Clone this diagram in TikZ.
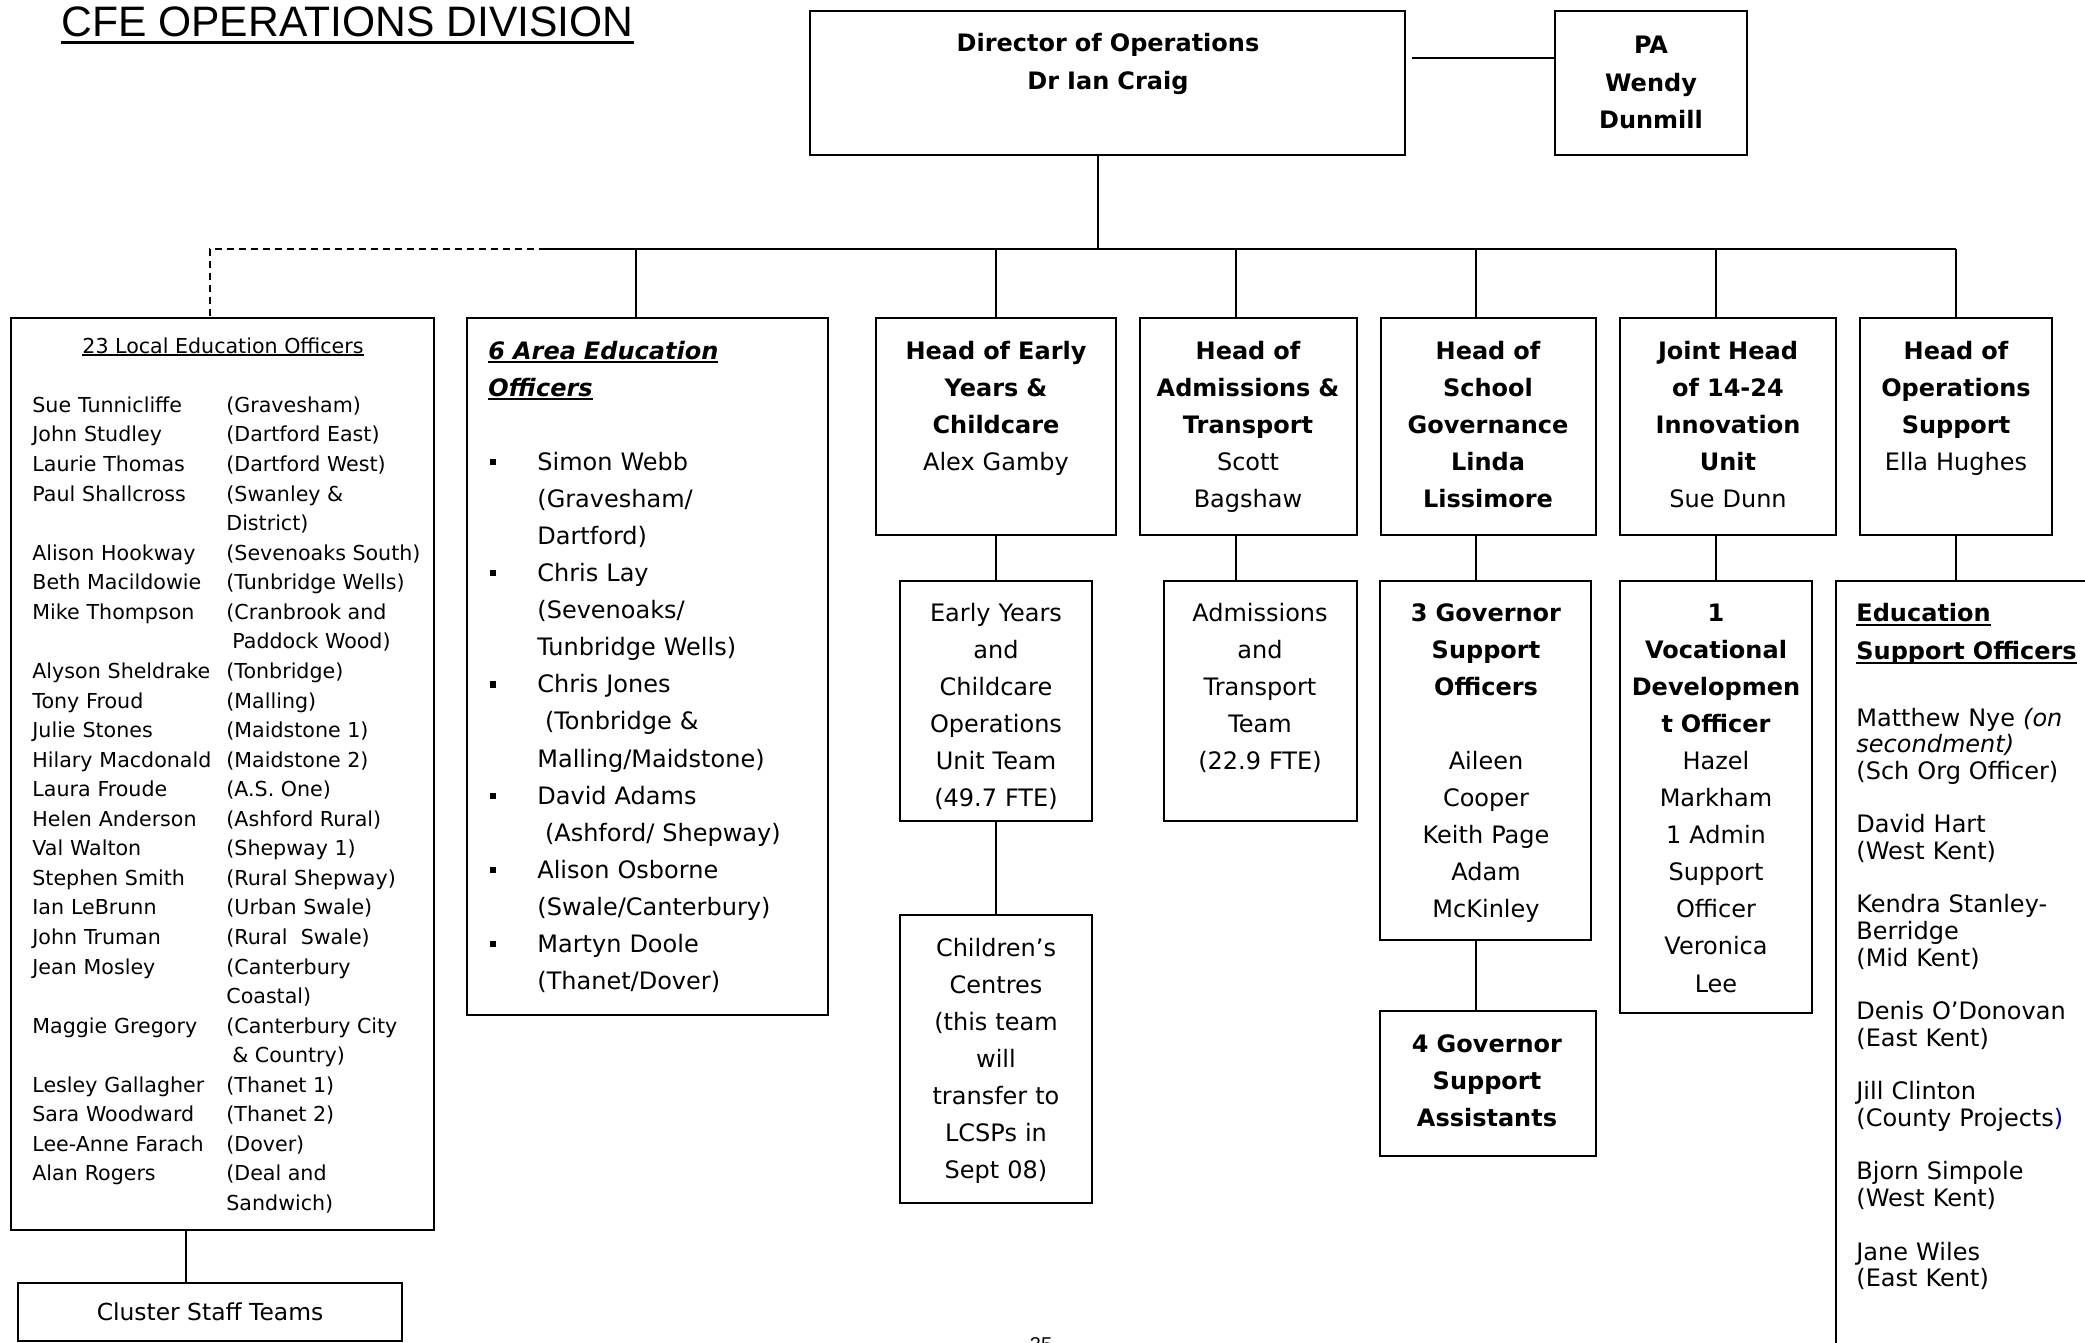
\documentclass[tikz,border=0pt]{standalone}
\usepackage{fontspec}
\setmainfont{DejaVu Sans}
\newfontfamily\titlefont{Liberation Sans}
\usetikzlibrary{fit,matrix}
\newcommand{\boxfont}{\fontsize{12}{18.55}\selectfont}
\newcommand{\listfont}{\fontsize{10.3}{14.78}\selectfont}
\newcommand{\undl}[2][2.4pt]{\leavevmode\setbox0\hbox{#2}\rlap{\rule[-#1]{\wd0}{0.9pt}}\box0}
\newcommand{\aeobul}{\makebox[24.5pt][l]{\hspace{0.6pt}\rule[2.6pt]{3.2pt}{3.2pt}}}
\newcommand{\aeoind}{\hspace*{24.5pt}}

\begin{document}
\begin{tikzpicture}[x=0.5pt, y=-0.5pt,
    orgbox/.style={draw, line width=1.1pt, inner sep=0pt},
    link/.style={line width=0.8pt},
    boxtxt/.style={anchor=base, align=center, inner sep=0pt, text width=100pt, font=\boxfont},
    listtxt/.style={anchor=base west, align=left, inner sep=0pt, text width=#1, font=\boxfont}]
\useasboundingbox (0,0) rectangle (2085,1343);
\clip (0,0) rectangle (2085,1343);

\node[anchor=base west, inner sep=0pt, font=\titlefont\fontsize{21.3}{25}\selectfont] (title) at (61,37) {CFE OPERATIONS DIVISION};
\draw[line width=1.5pt] ([yshift=-2.8pt]title.base west) -- ([yshift=-2.8pt]title.base east);

\node[orgbox, fit={(810,11) (1405,155)}] (director) {};
\node[orgbox, fit={(1555,11) (1747,155)}] (pa) {};
\node[orgbox, fit={(11,318) (434,1230)}] (leo) {};
\node[orgbox, fit={(18,1283) (402,1341)}] (cluster) {};
\node[orgbox, fit={(467,318) (828,1015)}] (aeo) {};
\node[orgbox, fit={(876,318) (1116,535)}] (eyhead) {};
\node[orgbox, fit={(900,581) (1092,821)}] (eyteam) {};
\node[orgbox, fit={(900,915) (1092,1203)}] (children) {};
\node[orgbox, fit={(1140,318) (1357,535)}] (admhead) {};
\node[orgbox, fit={(1164,581) (1357,821)}] (admteam) {};
\node[orgbox, fit={(1381,318) (1596,535)}] (govhead) {};
\node[orgbox, fit={(1380,581) (1591,940)}] (gso) {};
\node[orgbox, fit={(1380,1011) (1596,1156)}] (gsa) {};
\node[orgbox, fit={(1620,318) (1836,535)}] (jointhead) {};
\node[orgbox, fit={(1620,581) (1812,1013)}] (voc) {};
\node[orgbox, fit={(1860,318) (2052,535)}] (opshead) {};
\node[orgbox, fit={(1836,581) (2140,1400)}] (eso) {};

\node[boxtxt, text width=170pt] (directortxt) at (1108,52) {\bfseries Director of Operations\\Dr Ian Craig};
\node[boxtxt] (patxt) at (1651,54) {\bfseries PA\\Wendy\\Dunmill};

\node[anchor=base, inner sep=0pt, font=\listfont] (leotitle) at (223,353) {\undl[1.5pt]{23 Local Education Officers}};
\matrix (leolist) [matrix of nodes, anchor=north west, inner sep=0pt, row sep=0pt, column sep=0pt,
    nodes={anchor=base west, inner sep=0pt, outer sep=0pt, text height=10pt, text depth=4.78pt, font=\listfont},
    column 1/.style={nodes={text width=97pt}}] at (32,392) {
    Sue Tunnicliffe & (Gravesham) \\
    John Studley & (Dartford East) \\
    Laurie Thomas & (Dartford West) \\
    Paul Shallcross & (Swanley \& \\
     & District) \\
    Alison Hookway & (Sevenoaks South) \\
    Beth Macildowie & (Tunbridge Wells) \\
    Mike Thompson & (Cranbrook and \\
     & \hspace*{3pt}Paddock Wood) \\
    Alyson Sheldrake & (Tonbridge) \\
    Tony Froud & (Malling) \\
    Julie Stones & (Maidstone 1) \\
    Hilary Macdonald & (Maidstone 2) \\
    Laura Froude & (A.S. One) \\
    Helen Anderson & (Ashford Rural) \\
    Val Walton & (Shepway 1) \\
    Stephen Smith & (Rural Shepway) \\
    Ian LeBrunn & (Urban Swale) \\
    John Truman & (Rural\ \ Swale) \\
    Jean Mosley & (Canterbury \\
     & Coastal) \\
    Maggie Gregory & (Canterbury City \\
     & \hspace*{3pt}\& Country) \\
    Lesley Gallagher & (Thanet 1) \\
    Sara Woodward & (Thanet 2) \\
    Lee-Anne Farach & (Dover) \\
    Alan Rogers & (Deal and \\
     & Sandwich) \\
};
\node[anchor=base, inner sep=0pt, font=\fontsize{11.7}{14}\selectfont] (clustertxt) at (210,1320) {Cluster Staff Teams};

\node[listtxt=170pt] (aeotxt) at (488,359) {{\bfseries\itshape\undl[2pt]{6 Area Education}\\\undl[2pt]{Officers}}\\[18.55pt]
    \aeobul Simon Webb\\
    \aeoind (Gravesham/\\
    \aeoind Dartford)\\
    \aeobul Chris Lay\\
    \aeoind (Sevenoaks/\\
    \aeoind Tunbridge Wells)\\
    \aeobul Chris Jones\\
    \aeoind\hspace*{3.8pt}(Tonbridge \&\\
    \aeoind Malling/Maidstone)\\
    \aeobul David Adams\\
    \aeoind\hspace*{3.8pt}(Ashford/ Shepway)\\
    \aeobul Alison Osborne\\
    \aeoind (Swale/Canterbury)\\
    \aeobul Martyn Doole\\
    \aeoind (Thanet/Dover)};

\node[boxtxt] (eyheadtxt) at (996,359) {{\bfseries Head of Early\\Years \&\\Childcare}\\Alex Gamby};
\node[boxtxt] (admheadtxt) at (1248,359) {{\bfseries Head of\\Admissions \&\\Transport}\\Scott\\Bagshaw};
\node[boxtxt] (govheadtxt) at (1488,359) {\bfseries Head of\\School\\Governance\\Linda\\Lissimore};
\node[boxtxt] (jointheadtxt) at (1728,359) {{\bfseries Joint Head\\of 14-24\\Innovation\\Unit}\\Sue Dunn};
\node[boxtxt] (opsheadtxt) at (1956,359) {{\bfseries Head of\\Operations\\Support}\\Ella Hughes};

\node[boxtxt] (eyteamtxt) at (996,621) {Early Years\\and\\Childcare\\Operations\\Unit Team\\(49.7 FTE)};
\node[boxtxt] (childrentxt) at (996,956) {Children's\\Centres\\(this team\\will\\transfer to\\LCSPs in\\Sept 08)};
\node[boxtxt] (admteamtxt) at (1260,621) {Admissions\\and\\Transport\\Team\\(22.9 FTE)};
\node[boxtxt] (gsotxt) at (1486,621) {{\bfseries 3 Governor\\Support\\Officers}\\[18.55pt]Aileen\\Cooper\\Keith Page\\Adam\\McKinley};
\node[boxtxt] (gsatxt) at (1487,1052) {\bfseries 4 Governor\\Support\\Assistants};
\node[boxtxt] (voctxt) at (1716,621) {{\bfseries 1\\Vocational\\Developmen\\t Officer}\\Hazel\\Markham\\1 Admin\\Support\\Officer\\Veronica\\Lee};

\node[listtxt=120pt, font=\fontsize{12}{19}\selectfont] (esohead) at (1856,621) {\bfseries\undl{Education}\\\undl{Support Officers}};
\node[listtxt=120pt, font=\fontsize{12}{13.35}\selectfont] (esolist) at (1856,726) {Matthew Nye \textit{(on}\\\textit{secondment)}\\(Sch Org Officer)\\[13.35pt]
    David Hart\\(West Kent)\\[13.35pt]
    Kendra Stanley-\\Berridge\\(Mid Kent)\\[13.35pt]
    Denis O'Donovan\\(East Kent)\\[13.35pt]
    Jill Clinton\\(County Projects{\color{blue!60!black})}\\[13.35pt]
    Bjorn Simpole\\(West Kent)\\[13.35pt]
    Jane Wiles\\(East Kent)};

\node[anchor=north, inner sep=0pt, font=\titlefont\fontsize{10}{12}\selectfont] (pageno) at (1041,1337) {35};

\coordinate (bus) at (1098,249);
\coordinate (busleft) at (546,249);
\coordinate (busright) at (1956,249);
\coordinate (dashcorner) at (210,249);
\draw[link] (bus) -- (bus |- director.south);
\draw[link] ([xshift=3pt,yshift=-24pt]director.north east) -- ([yshift=-24pt]pa.north west);
\draw[link] (busleft) -- (busright);
\draw[link, dash pattern=on 3.5pt off 2.5pt] (busleft) -- (dashcorner) -- (dashcorner |- leo.north);
\foreach \x/\n in {636/aeo, 996/eyhead, 1236/admhead, 1476/govhead, 1716/jointhead, 1956/opshead} {
    \coordinate (drop\n) at (\x,249);
    \draw[link] (drop\n) -- (drop\n |- \n.north);
}
\foreach \h/\t in {eyhead/eyteam, admhead/admteam, govhead/gso, jointhead/voc, opshead/eso}
    \draw[link] (drop\h |- \h.south) -- (drop\h |- \t.north);
\draw[link] (eyteam.south) -- (children.north);
\draw[link] (dropgovhead |- gso.south) -- (dropgovhead |- gsa.north);
\coordinate (leodrop) at ([xshift=-18.25pt]leo.south);
\draw[link] (leodrop) -- (leodrop |- cluster.north);
\end{tikzpicture}
\end{document}
